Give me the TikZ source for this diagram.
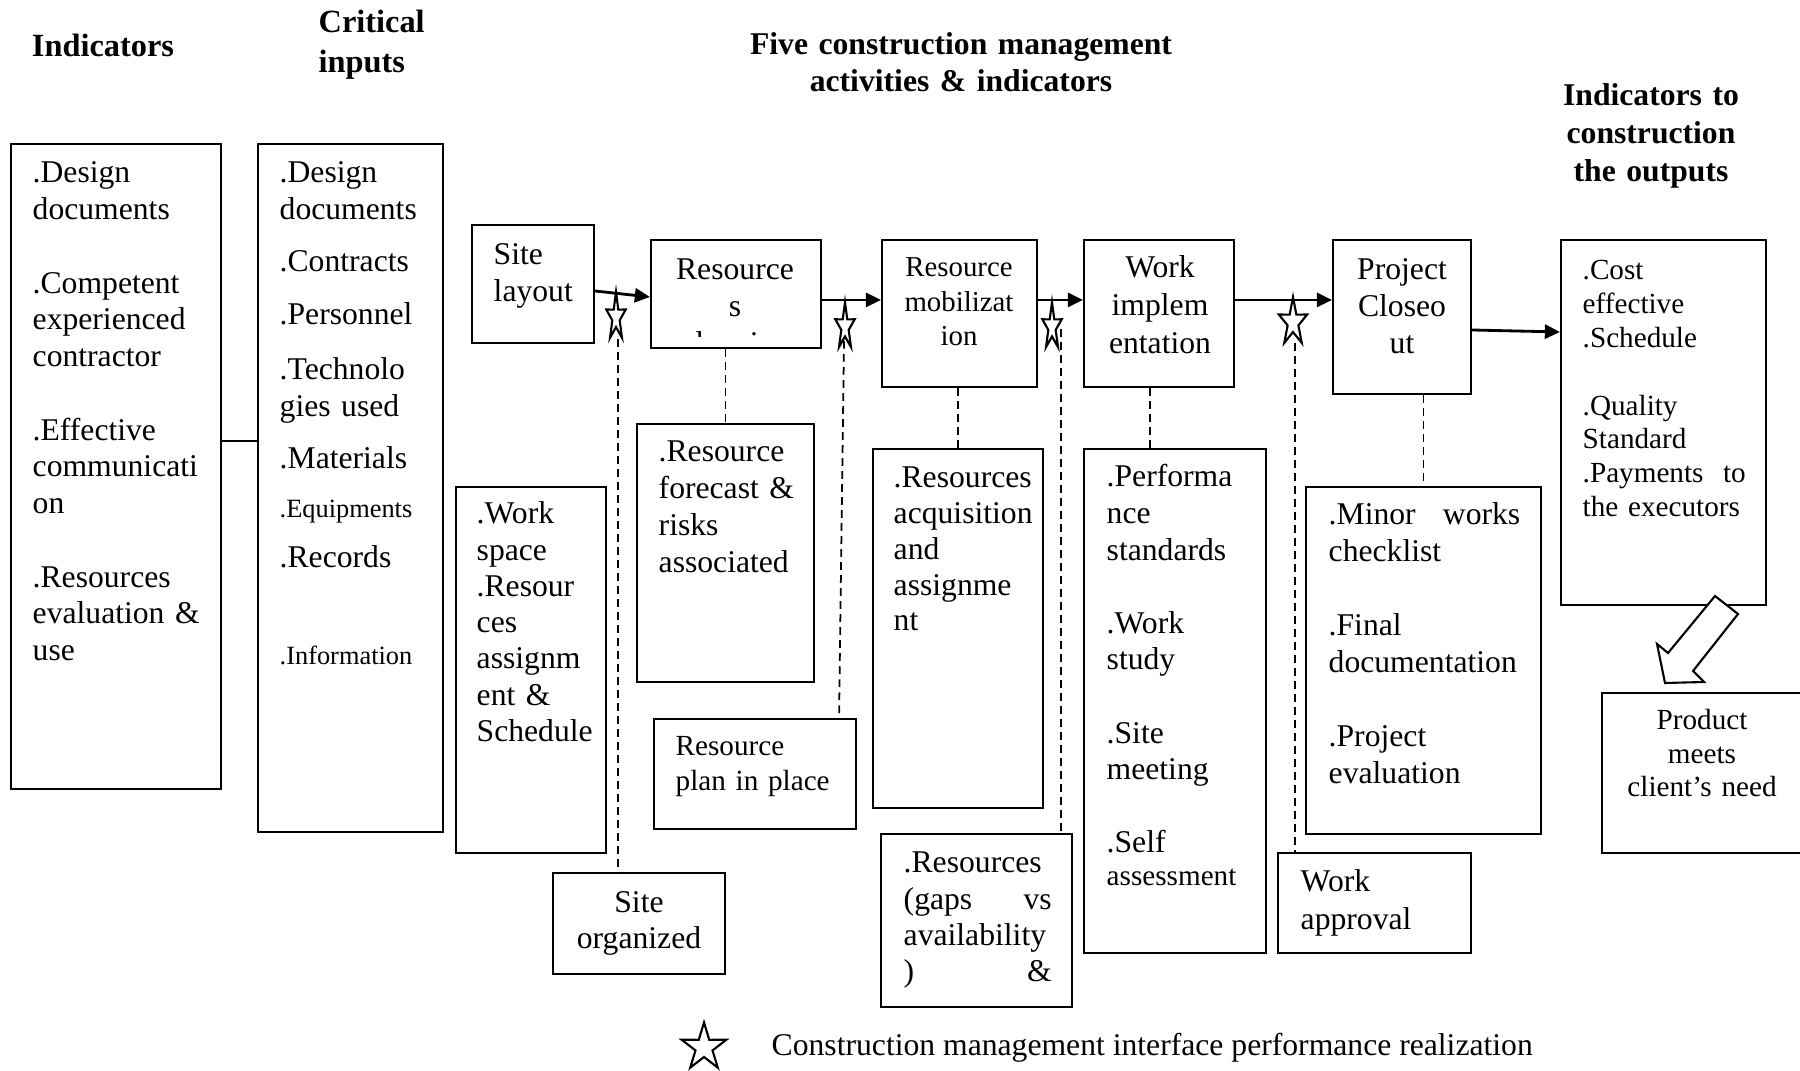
\documentclass[tikz,border=0pt]{standalone}
\usepackage{fontspec}
\setmainfont{Liberation Serif}
\usetikzlibrary{arrows.meta,fit,calc}

% stretch a line to the full text width (justified line before a forced break)
\newcommand\spread{\hskip 0pt plus 1filll\relax}

\begin{document}
\begin{tikzpicture}[x=0.01cm, y=-0.01cm,
  panel/.style={draw, line width=0.6pt, inner sep=0pt},
  txt/.style={inner sep=0pt, anchor=base west, align=left, font=\fontsize{9}{10.45}\selectfont},
  txtc/.style={txt, anchor=base, align=center},
  head/.style={inner sep=0pt, anchor=base, align=center},
  flow/.style={line width=0.8pt, -{Triangle[length=4.3pt,width=4pt]}},
  link/.style={line width=0.5pt, dash pattern=on 2.2pt off 1.5pt},
  tie/.style={line width=0.6pt},
  istar/.pic={\draw[line width=0.6pt, line join=miter]
     (270:1) -- (306:0.38) -- (342:1) -- (18:0.38) -- (54:1) -- (90:0.38)
     -- (126:1) -- (162:0.38) -- (198:1) -- (234:0.38) -- cycle;}
]
\useasboundingbox (0,0) rectangle (1800,1071);
\clip (0,0) rectangle (1800,1071);
\fill[white] (0,0) rectangle (1800,1071);

% ---------- column headings ----------
\node[head, font=\bfseries\fontsize{9.2}{11}\selectfont] (h-ind) at (103,57) {Indicators};
\node[head, anchor=base west, align=left, text width=1.3cm,
      font=\bfseries\fontsize{9.2}{11.1}\selectfont] (h-crit) at (318,33) {Critical\\inputs};
\node[head, text width=5cm, font=\bfseries\fontsize{9}{10.3}\selectfont] (h-five) at (961,55)
  {Five construction management\\activities \& indicators};
\node[head, text width=2.2cm, font=\bfseries\fontsize{9}{10.8}\selectfont] (h-out) at (1651,106)
  {Indicators to\\construction\\the outputs};

% ---------- frames ----------
\node[panel, fit={(11,144) (221,789)}] (ind) {};
\node[panel, fit={(258,144) (443,832)}] (crit) {};
\node[panel, fit={(472,225) (594,343)}] (site) {};
\node[panel, fit={(651,240) (821,348)}] (res) {};
\node[panel, fit={(882,240) (1037,387)}] (mob) {};
\node[panel, fit={(1084,240) (1234,387)}] (work) {};
\node[panel, fit={(1333,240) (1471,394)}] (close) {};
\node[panel, fit={(1561,240) (1766,605)}] (out) {};
\node[panel, fit={(456,487) (606,853)}] (space) {};
\node[panel, fit={(553,873) (725,974)}] (org) {};
\node[panel, fit={(637,424) (814,682)}] (fore) {};
\node[panel, fit={(654,719) (856,829)}] (plan) {};
\node[panel, fit={(873,449) (1043,808)}] (acq) {};
\node[panel, fit={(881,834) (1072,1007)}] (gaps) {};
\node[panel, fit={(1084,449) (1266,953)}] (perf) {};
\node[panel, fit={(1278,853) (1471,953)}] (appr) {};
\node[panel, fit={(1306,487) (1541,834)}] (minor) {};
\node[panel, fit={(1602,693) (1830,853)}] (prod) {};

% ---------- frame texts ----------
\node[txt, text width=1.67cm] (ind-t) at (32,183)
  {.Design\\documents\\[10.45pt].Competent\\experienced\\contractor\\[10.45pt].Effective\\communicati\\on\\[10.45pt].Resources\\evaluation\spread\&\\use};
\node[txt, text width=1.6cm] (crit-t) at (279,183)
  {.Design\\documents\\[4.35pt].Contracts\\[4.6pt].Personnel\\[5.2pt].Technolo\\gies used\\[4.35pt].Materials\\[3.5pt]{\fontsize{7.5}{9}\selectfont .Equipments}\\[3.8pt].Records\\[17.1pt]{\fontsize{7.5}{9}\selectfont .Information}};

\node[txt, text width=1cm] (site-t) at (493,265) {Site\\layout};
\begin{scope}
  \clip (651,240) rectangle (821,336.5);
  \node[txtc, text width=1.6cm] (res-t) at (735,280) {Resource\\s\\planning};
\end{scope}
\node[txtc, text width=1.5cm, font=\fontsize{8.2}{9.7}\selectfont] (mob-t) at (959,277) {Resource\\mobilizat\\ion};
\node[txtc, text width=1.45cm, font=\fontsize{9}{10.8}\selectfont] (work-t) at (1160,278) {Work\\implem\\entation};
\node[txtc, text width=1.3cm, font=\fontsize{9}{10.4}\selectfont] (close-t) at (1402,280) {Project\\Closeo\\ut};
\node[txt, text width=1.63cm, font=\fontsize{8.3}{9.6}\selectfont] (out-t) at (1582,280)
  {.Cost\\effective\\.Schedule\\[9.6pt].Quality\\Standard\\.Payments\spread to\\the executors};

\node[txt, text width=1.3cm, font=\fontsize{9}{10.3}\selectfont] (space-t) at (476,524)
  {.Work\\space\\.Resour\\ces\\assignm\\ent \&\\Schedule};
\node[txtc, text width=1.6cm, font=\fontsize{9}{10}\selectfont] (org-t) at (639,913) {Site\\organized};
\node[txt, text width=1.45cm] (fore-t) at (658,462) {.Resource\\forecast \&\\risks\\associated};
\node[txt, text width=1.8cm, font=\fontsize{8.3}{9.7}\selectfont] (plan-t) at (675,756) {Resource\\plan in place};
\node[txt, text width=1.5cm, font=\fontsize{9}{10.15}\selectfont] (acq-t) at (893,488)
  {.Resources\\acquisition\\and\\assignme\\nt};
\node[txt, text width=1.48cm, font=\fontsize{9}{10.3}\selectfont] (gaps-t) at (903,873)
  {.Resources\\(gaps\spread vs\\availability\\)\spread\&};
\node[txt, text width=1.5cm, font=\fontsize{9}{10.4}\selectfont] (perf-t) at (1106,487)
  {.Performa\\nce\\standards\\[10.4pt].Work\\study\\[10.4pt].Site\\meeting\\[10.4pt].Self\\[-1pt]{\fontsize{8.3}{9.6}\selectfont assessment}};
\node[txt, text width=1.5cm, font=\fontsize{9}{10.8}\selectfont] (appr-t) at (1300,892) {Work\\approval};
\node[txt, text width=1.915cm, font=\fontsize{9}{10.5}\selectfont] (minor-t) at (1328,525)
  {.Minor\spread works\\checklist\\[10.5pt].Final\\documentation\\[10.5pt].Project\\evaluation};
\node[txtc, text width=1.8cm, font=\fontsize{8.3}{9.5}\selectfont] (prod-t) at (1702,730)
  {Product\\meets\\client’s need};

% ---------- connectors ----------
\coordinate (tieY) at (0,441);
\draw[tie] (ind.east |- tieY) -- (crit.west |- tieY);

\coordinate (lane) at (0,300);
\draw[flow] ($(site.east)+(0,7)$) -- ($(res.west)+(0,3)$);
\draw[flow] (res.east |- lane) -- (mob.west |- lane);
\draw[flow] (mob.east |- lane) -- (work.west |- lane);
\draw[flow] (work.east |- lane) -- (close.west |- lane);
\draw[flow] ($(close.east)+(0,13)$) -- ($(out.west)+(0,-90.5)$);

% interface stars on the activity chain
\pic[xscale=10.2, yscale=25.4] at (616,317.4) {istar};
\pic[xscale=10.2, yscale=24.9] at (845,327) {istar};
\pic[xscale=10.2, yscale=24.9] at (1052,327) {istar};
\pic[xscale=14.9, yscale=25.4] at (1293,322.4) {istar};

\coordinate (s1) at (618,339);
\coordinate (s2) at (844,341);
\coordinate (s3) at (1061,329);
\coordinate (s4) at (1295,343);
\coordinate (w1) at ($(work.south)+(-9,0)$);

\draw[link] (s1) -- (s1 |- org.north);
\draw[link] (fore.north |- res.south) -- (fore.north);
\draw[link] (s2) -- ($(plan.north east)+(-18,0)$);
\draw[link] (acq.north |- mob.south) -- (acq.north);
\draw[link] (s3) -- (s3 |- gaps.north);
\draw[link] (w1) -- (w1 |- perf.north);
\draw[link] (s4) -- (s4 |- appr.north);
\draw[link] (minor.north |- close.south) -- (minor.north);

% hollow block arrow from the outputs to the product
\draw[line width=0.6pt, fill=white, line join=miter]
  (1715,596) -- (1738,614) -- (1693,671) -- (1704,682) -- (1665,683)
  -- (1657,644) -- (1668,653) -- cycle;

% ---------- legend ----------
\pic[xscale=23.5, yscale=25] at (704,1047.5) {istar};
\node[txt] (legend) at (771,1056) {Construction management interface performance realization};

\end{tikzpicture}
\end{document}
